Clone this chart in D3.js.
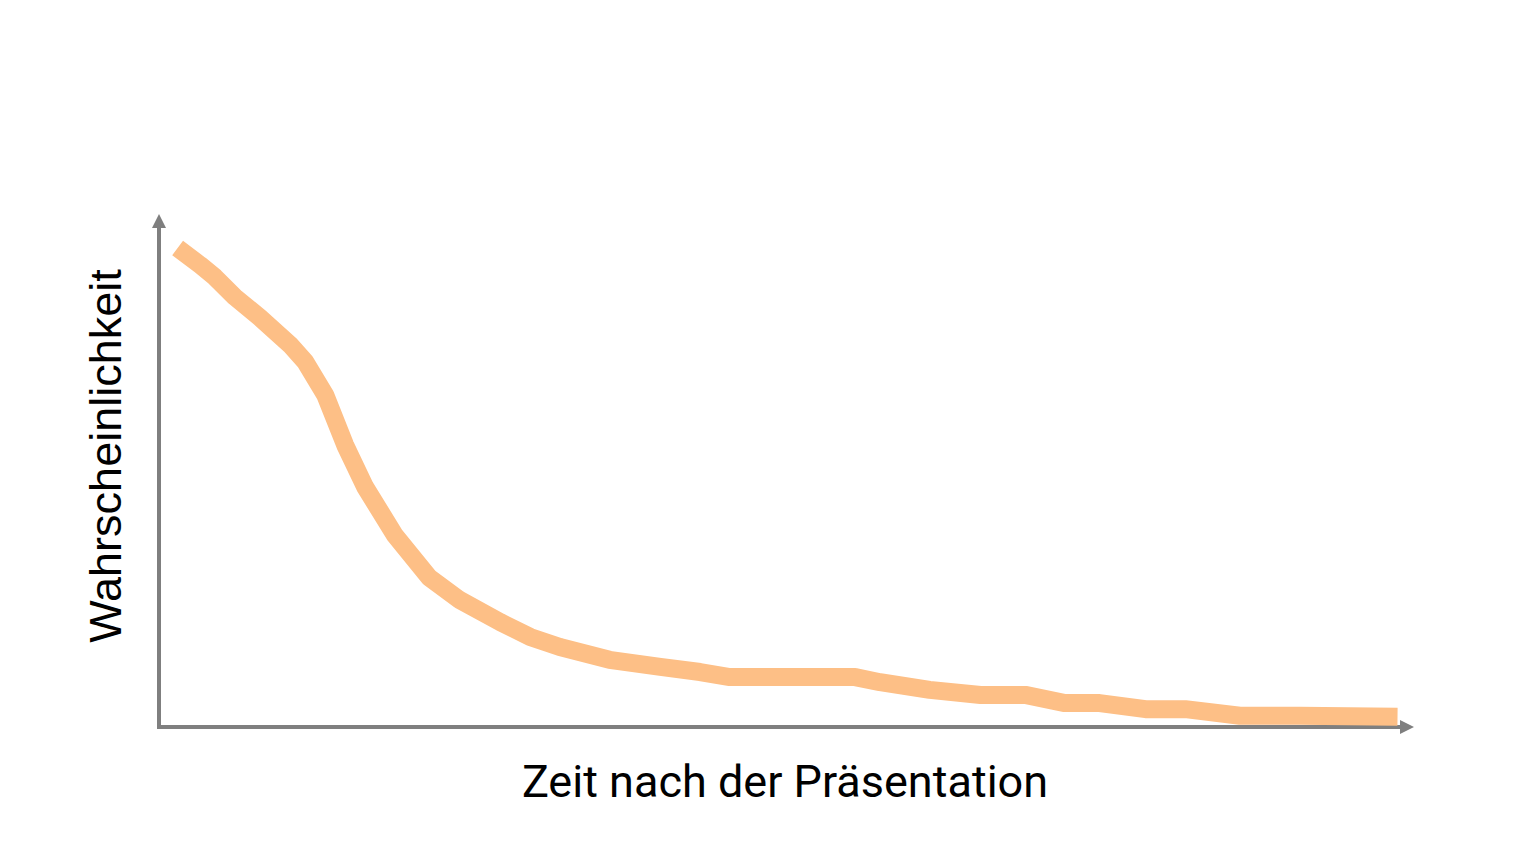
<!DOCTYPE html>
<html>
<head>
<meta charset="utf-8">
<script src="https://cdn.jsdelivr.net/npm/d3@7"></script>
<style>
  html, body { margin: 0; padding: 0; background: #fff; }
  svg { display: block; }
</style>
</head>
<body>
<svg id="chart"></svg>
<script>
// Time after the presentation (0..100, arbitrary units)
const timeValues = [1.5, 3.3, 4.5, 6.1, 8.1, 10.6, 11.8, 13.4, 15.0, 16.6, 19.0, 21.8, 24.2, 27.5, 29.9,
  32.3, 36.3, 40.4, 43.6, 46.0, 50.8, 56.1, 58.1, 62.1, 66.2, 69.8, 73.0, 75.8, 79.5, 82.7, 87.1, 91.9, 99.8];
// Probability (0..1)
const probValues = [0.941, 0.908, 0.884, 0.845, 0.805, 0.750, 0.717, 0.652, 0.554, 0.472, 0.377, 0.293, 0.250,
  0.206, 0.177, 0.157, 0.132, 0.118, 0.108, 0.098, 0.098, 0.098, 0.088, 0.073, 0.063, 0.063, 0.047, 0.047,
  0.035, 0.035, 0.022, 0.022, 0.020];
const xLabel = "Zeit nach der Präsentation";
const yLabel = "Wahrscheinlichkeit";

const W = 1536, H = 864;
const m = { top: 218, right: 136, bottom: 137, left: 159 };
const iW = W - m.left - m.right;
const iH = H - m.top - m.bottom;

const svg = d3.select("#chart").attr("width", W).attr("height", H);
const g = svg.append("g").attr("transform", `translate(${m.left},${m.top})`);

const x = d3.scaleLinear().domain([0, 100]).range([0, iW]);
const y = d3.scaleLinear().domain([0, 1]).range([iH, 0]);

const data = timeValues.map((t, i) => ({ t, p: probValues[i] }));

// Axes (plain arrows, no ticks)
const axisCol = "#7f7f7f";
const defs = svg.append("defs");
defs.append("marker")
  .attr("id", "arrow").attr("viewBox", "0 0 10 10")
  .attr("refX", 0).attr("refY", 5)
  .attr("markerWidth", 3.5).attr("markerHeight", 3.5)
  .attr("orient", "auto")
  .append("path").attr("d", "M0,0 L10,5 L0,10 Z").attr("fill", axisCol);

g.append("line")
  .attr("x1", x(0)).attr("x2", x(0))
  .attr("y1", y(0) + 2).attr("y2", y(1) + 10)
  .attr("stroke", axisCol).attr("stroke-width", 4)
  .attr("marker-end", "url(#arrow)");

g.append("line")
  .attr("x1", x(0) - 2).attr("x2", x(100))
  .attr("y1", y(0)).attr("y2", y(0))
  .attr("stroke", axisCol).attr("stroke-width", 4)
  .attr("marker-end", "url(#arrow)");

// Curve
g.append("path").datum(data)
  .attr("d", d3.line().x(d => x(d.t)).y(d => y(d.p)).curve(d3.curveLinear))
  .attr("fill", "none")
  .attr("stroke", "#fdbf86")
  .attr("stroke-width", 18)
  .attr("stroke-linejoin", "round")
  .attr("stroke-linecap", "butt");

// Axis titles
svg.append("text")
  .attr("x", 785).attr("y", 797)
  .attr("text-anchor", "middle")
  .style("font-family", "Roboto, sans-serif")
  .style("font-size", "45px")
  .style("fill", "#000")
  .text(xLabel);

svg.append("text")
  .attr("transform", "translate(121,456) rotate(-90)")
  .attr("text-anchor", "middle")
  .style("font-family", "'Liberation Sans', Arial, sans-serif")
  .style("font-size", "45px")
  .style("fill", "#000")
  .text(yLabel);
</script>
</body>
</html>
